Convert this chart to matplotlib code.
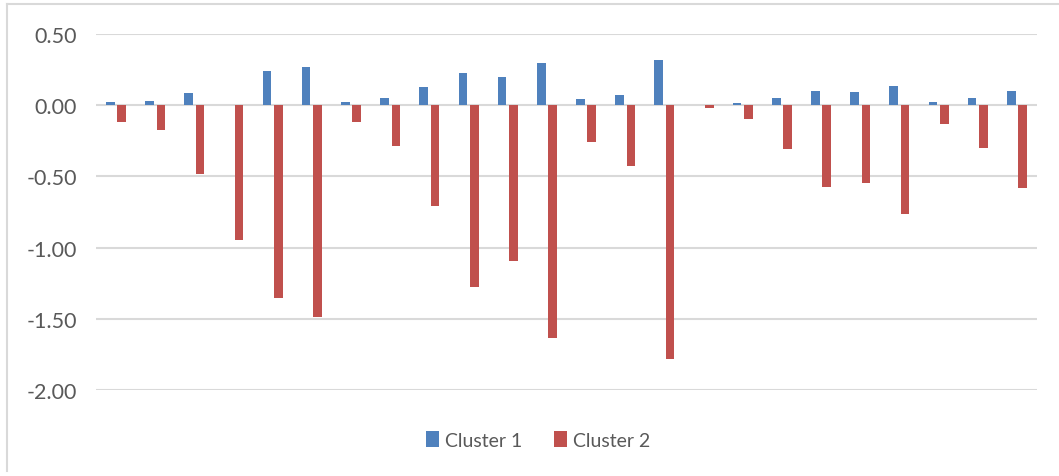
import matplotlib
matplotlib.use('Agg')
import matplotlib.pyplot as plt
import numpy as np
from matplotlib.lines import Line2D

plt.rcParams['font.family'] = ['Lato', 'DejaVu Sans']

# values (24 groups)
cluster1 = [0.02, 0.03, 0.085, 0.00, 0.24, 0.27, 0.02, 0.05, 0.125, 0.225, 0.195, 0.295,
            0.045, 0.075, 0.32, 0.00, 0.015, 0.05, 0.10, 0.095, 0.135, 0.02, 0.05, 0.10]
cluster2 = [-0.115, -0.175, -0.485, -0.945, -1.355, -1.49, -0.115, -0.285, -0.705, -1.28,
            -1.095, -1.635, -0.26, -0.425, -1.78, -0.02, -0.10, -0.305, -0.575, -0.545,
            -0.765, -0.135, -0.30, -0.58]
series_names = ['Cluster 1', 'Cluster 2']
yticks = [0.5, 0.0, -0.5, -1.0, -1.5, -2.0]

blue = '#4F81BD'
red = '#C0504D'

fig = plt.figure(figsize=(10.59, 4.77), dpi=100)
ax = fig.add_axes([0.091, 0.1803, 0.8878, 0.7463])

x = np.arange(len(cluster1))
w = 0.22
ax.bar(x - 0.145, cluster1, w, color=blue, label=series_names[0], zorder=3)
ax.bar(x + 0.145, cluster2, w, color=red, label=series_names[1], zorder=3)

ax.set_xlim(-0.5, len(cluster1) - 0.5)
ax.set_ylim(-2.0, 0.5)
ax.set_yticks(yticks)
ax.set_yticklabels([f'{v:.2f}' for v in yticks])
ax.set_xticks([])
ax.yaxis.grid(True, color='#d9d9d9', linewidth=1.5, zorder=0)
ax.tick_params(axis='y', length=0, labelsize=15.5, colors='#595959', pad=14)
for s in ax.spines.values():
    s.set_visible(False)

ax.legend(loc='center', bbox_to_anchor=(0.508, 0.0755), bbox_transform=fig.transFigure,
          ncol=2, frameon=False, fontsize=14, handlelength=0.7, handleheight=0.9,
          handletextpad=0.3, columnspacing=1.6, labelcolor='#595959')

# chart area border (left and top visible)
fig.add_artist(Line2D([0.0066, 0.0066], [0.01, 0.99], transform=fig.transFigure,
                      color='#d9d9d9', linewidth=1.5))
fig.add_artist(Line2D([0.0066, 1.0], [0.99, 0.99], transform=fig.transFigure,
                      color='#d9d9d9', linewidth=1.5))

fig.savefig('out.png', dpi=100, facecolor='white')
